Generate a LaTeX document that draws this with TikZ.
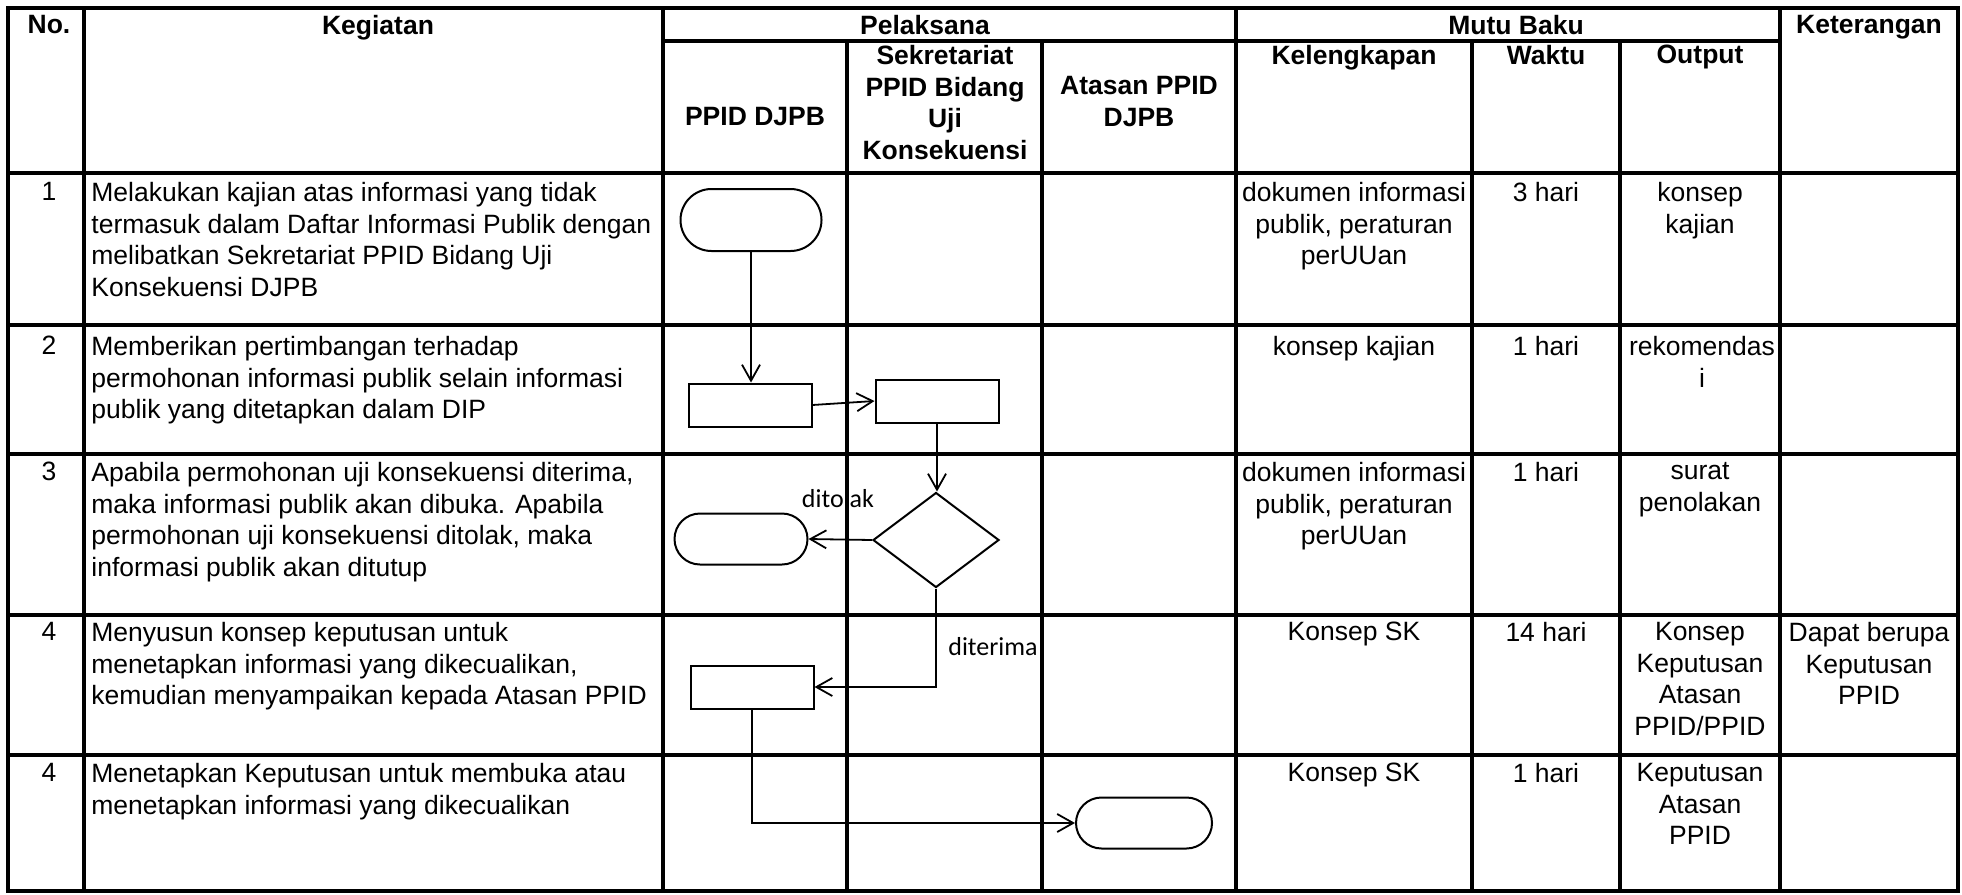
\documentclass[tikz,border=0pt]{standalone}
\usepackage{fontspec}
\setmainfont{Liberation Sans}
\newfontfamily\labelfont{Carlito}
\usetikzlibrary{shapes.geometric,shapes.misc,arrows.meta}
\tikzset{
	tabline/.style={line width=1.6pt, line cap=rect},
	head/.style={anchor=north, inner sep=0pt, align=center, font=\bfseries\fontsize{13.25}{15.75}\selectfont},
	cell/.style={anchor=north, inner sep=0pt, align=center, font=\fontsize{13.25}{15.75}\selectfont},
	task/.style={cell, anchor=north west, align=left},
	terminal/.style={draw, rounded rectangle, line width=1pt, inner sep=0pt},
	process/.style={draw, rectangle, line width=1pt, minimum width=61.5pt, minimum height=21.5pt, inner sep=0pt},
	decision/.style={draw, diamond, line width=1pt, minimum width=63pt, minimum height=47.5pt, inner sep=0pt},
	flow/.style={line width=0.9pt, -{Straight Barb[length=8pt,width=9pt,line width=0.9pt]}},
	note/.style={font=\labelfont\fontsize{13}{15.6}\selectfont, inner sep=0pt},
}
\begin{document}
\begin{tikzpicture}[x=0.5pt, y=-0.5pt]
	\useasboundingbox (0,0) rectangle (1962,894);
	\draw[tabline] (8,8) rectangle (1958,891);
	\draw[tabline] (663,41) -- (1780,41);
	\draw[tabline] (8,173) -- (1958,173);
	\draw[tabline] (8,325) -- (1958,325);
	\draw[tabline] (8,454) -- (1958,454);
	\draw[tabline] (8,615) -- (1958,615);
	\draw[tabline] (8,755) -- (1958,755);
	\draw[tabline] (84,8) -- (84,891);
	\draw[tabline] (663,8) -- (663,891);
	\draw[tabline] (1236,8) -- (1236,891);
	\draw[tabline] (1780,8) -- (1780,891);
	\draw[tabline] (847,41) -- (847,891);
	\draw[tabline] (1042,41) -- (1042,891);
	\draw[tabline] (1472,41) -- (1472,891);
	\draw[tabline] (1620,41) -- (1620,891);

	\node[head] (hno) at (49,15) {No.};
	\node[head] (hkeg) at (378,15) {Kegiatan};
	\node[head] (hpel) at (925,15) {Pelaksana};
	\node[head] (hmutu) at (1516,15) {Mutu Baku};
	\node[head] (hket) at (1869,15) {Keterangan};
	\node[head] (hppid) at (755,107) {PPID DJPB};
	\node[head] (hsek) at (945,45) {Sekretariat\\PPID Bidang\\Uji\\Konsekuensi};
	\node[head] (hatasan) at (1139,76) {Atasan PPID\\DJPB};
	\node[head] (hkel) at (1354,45) {Kelengkapan};
	\node[head] (hwaktu) at (1546,45) {Waktu};
	\node[head] (hout) at (1700,45) {Output};

	\node[cell] (n1) at (49,182) {1};
	\node[task] (k1) at (91,182) {Melakukan kajian atas informasi yang tidak\\termasuk dalam Daftar Informasi Publik dengan\\melibatkan Sekretariat PPID Bidang Uji\\Konsekuensi DJPB};
	\node[cell] (kel1) at (1354,182) {dokumen informasi\\publik, peraturan\\perUUan};
	\node[cell] (w1) at (1546,182) {3 hari};
	\node[cell] (o1) at (1700,182) {konsep\\kajian};

	\node[cell] (n2) at (49,336) {2};
	\node[task] (k2) at (91,336) {Memberikan pertimbangan terhadap\\permohonan informasi publik selain informasi\\publik yang ditetapkan dalam DIP};
	\node[cell] (kel2) at (1354,336) {konsep kajian};
	\node[cell] (w2) at (1546,336) {1 hari};
	\node[cell] (o2) at (1702,336) {rekomendas\\i};

	\node[cell] (n3) at (49,462) {3};
	\node[task] (k3) at (91,462) {Apabila permohonan uji konsekuensi diterima,\\maka informasi publik akan dibuka. Apabila\\permohonan uji konsekuensi ditolak, maka\\informasi publik akan ditutup};
	\node[cell] (kel3) at (1354,462) {dokumen informasi\\publik, peraturan\\perUUan};
	\node[cell] (w3) at (1546,462) {1 hari};
	\node[cell] (o3) at (1700,462) {surat\\penolakan};

	\node[cell] (n4) at (49,622) {4};
	\node[task] (k4) at (91,622) {Menyusun konsep keputusan untuk\\menetapkan informasi yang dikecualikan,\\kemudian menyampaikan kepada Atasan PPID};
	\node[cell] (kel4) at (1354,622) {Konsep SK};
	\node[cell] (w4) at (1546,622) {14 hari};
	\node[cell] (o4) at (1700,622) {Konsep\\Keputusan\\Atasan\\PPID/PPID};
	\node[cell] (ket4) at (1869,622) {Dapat berupa\\Keputusan\\PPID};

	\node[cell] (n5) at (49,763) {4};
	\node[task] (k5) at (91,763) {Menetapkan Keputusan untuk membuka atau\\menetapkan informasi yang dikecualikan};
	\node[cell] (kel5) at (1354,763) {Konsep SK};
	\node[cell] (w5) at (1546,763) {1 hari};
	\node[cell] (o5) at (1700,763) {Keputusan\\Atasan\\PPID};

	\node[terminal, minimum width=70.5pt, minimum height=31pt] (mulai) at (751,220) {};
	\node[process] (kaji) at (750,405) {};
	\node[process] (timbang) at (937,401) {};
	\node[decision] (putus) at (936,540) {};
	\node[terminal, minimum width=66.5pt, minimum height=25.5pt] (tutup) at (741,539) {};
	\node[process] (konsep) at (752,687) {};
	\node[terminal, minimum width=68pt, minimum height=25.5pt] (tetap) at (1144,823) {};

	\draw[flow] (mulai.south) -- (mulai.south |- kaji.north);
	\draw[flow] (kaji.east) -- (timbang.west);
	\draw[flow] (timbang.south) -- (timbang.south |- putus.north);
	\draw[flow] (putus.west) -- (tutup.east);
	\draw[flow] (putus.south) |- (konsep.east);
	\draw[flow] (konsep.south) |- (tetap.west);

	\node[note] (ltolak) at (838,499) {ditolak};
	\node[note] (lterima) at (993,647) {diterima};
\end{tikzpicture}
\end{document}
